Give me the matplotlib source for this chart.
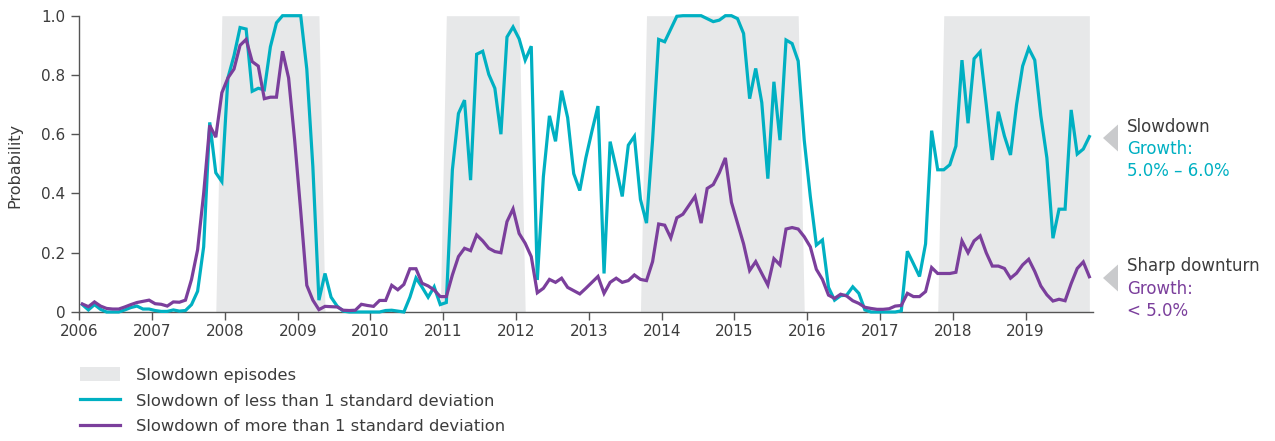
import numpy as np
import pandas as pd
import matplotlib
matplotlib.use("Agg")
import matplotlib.pyplot as plt
from matplotlib.patches import Patch, Polygon
from matplotlib.lines import Line2D

plt.rcParams['font.family'] = ['DejaVu Sans']

# monthly probabilities, Jan 2006 - Nov 2019
mild = [0.025, 0.007, 0.025, 0.009, 0.0, 0.0, 0.0, 0.007, 0.015, 0.02,
        0.01, 0.01, 0.005, 0.002, 0.002, 0.007, 0.003, 0.005, 0.025, 0.07,
        0.22, 0.64, 0.47, 0.44, 0.79, 0.865, 0.96, 0.955, 0.745, 0.755,
        0.75, 0.895, 0.976, 1.0, 1.0, 1.0, 1.0, 0.82, 0.49, 0.04,
        0.13, 0.05, 0.02, 0.003, 0.0, 0.0, 0.0, 0.0, 0.0, 0.0,
        0.005, 0.006, 0.003, 0.0, 0.05, 0.115, 0.084, 0.05, 0.085, 0.025,
        0.032, 0.48, 0.67, 0.715, 0.445, 0.87, 0.88, 0.802, 0.755, 0.6,
        0.928, 0.962, 0.922, 0.85, 0.897, 0.108, 0.457, 0.662, 0.576, 0.747,
        0.656, 0.467, 0.41, 0.52, 0.61, 0.695, 0.13, 0.575, 0.485, 0.39,
        0.563, 0.593, 0.38, 0.3, 0.58, 0.92, 0.912, 0.955, 0.998, 1.0,
        1.0, 1.0, 1.0, 0.99, 0.98, 0.985, 1.0, 1.0, 0.99, 0.94,
        0.72, 0.822, 0.707, 0.45, 0.777, 0.58, 0.918, 0.906, 0.847, 0.58,
        0.39, 0.226, 0.243, 0.083, 0.04, 0.055, 0.057, 0.085, 0.063, 0.007,
        0.0, 0.0, 0.0, 0.0, 0.0, 0.004, 0.205, 0.163, 0.12, 0.23,
        0.612, 0.48, 0.48, 0.497, 0.56, 0.85, 0.637, 0.855, 0.878, 0.7,
        0.513, 0.676, 0.594, 0.53, 0.7, 0.83, 0.89, 0.85, 0.662, 0.52,
        0.249, 0.347, 0.347, 0.682, 0.533, 0.55, 0.592]

sharp = [0.027, 0.018, 0.034, 0.02, 0.012, 0.01, 0.01, 0.017, 0.025, 0.032,
         0.036, 0.04, 0.028, 0.026, 0.02, 0.034, 0.033, 0.04, 0.11, 0.21,
         0.4, 0.63, 0.59, 0.74, 0.79, 0.82, 0.9, 0.92, 0.845, 0.83,
         0.72, 0.725, 0.725, 0.88, 0.79, 0.58, 0.34, 0.09, 0.04, 0.008,
         0.019, 0.018, 0.017, 0.006, 0.005, 0.006, 0.026, 0.022, 0.019, 0.039,
         0.039, 0.09, 0.075, 0.093, 0.146, 0.146, 0.097, 0.088, 0.074, 0.052,
         0.052, 0.125, 0.187, 0.215, 0.207, 0.26, 0.24, 0.215, 0.204, 0.2,
         0.305, 0.348, 0.265, 0.232, 0.187, 0.065, 0.08, 0.11, 0.1, 0.114,
         0.083, 0.072, 0.061, 0.08, 0.1, 0.12, 0.063, 0.1, 0.114, 0.1,
         0.106, 0.125, 0.11, 0.106, 0.17, 0.297, 0.293, 0.25, 0.318, 0.33,
         0.36, 0.39, 0.3, 0.417, 0.43, 0.47, 0.52, 0.37, 0.3, 0.23,
         0.14, 0.17, 0.13, 0.091, 0.18, 0.159, 0.28, 0.285, 0.28, 0.254,
         0.22, 0.144, 0.11, 0.057, 0.046, 0.06, 0.054, 0.038, 0.029, 0.016,
         0.012, 0.009, 0.009, 0.011, 0.02, 0.022, 0.063, 0.052, 0.052, 0.069,
         0.15, 0.13, 0.13, 0.13, 0.134, 0.24, 0.2, 0.24, 0.257, 0.2,
         0.155, 0.155, 0.147, 0.114, 0.131, 0.159, 0.178, 0.137, 0.088, 0.058,
         0.037, 0.043, 0.038, 0.096, 0.147, 0.169, 0.119]

# slowdown episodes (first month, last month)
episodes = [("2007-12", "2009-04"), ("2011-01", "2012-01"),
            ("2013-10", "2015-11"), ("2017-11", "2019-11")]

years = list(range(2006, 2020))
yticks = [0, 0.2, 0.4, 0.6, 0.8, 1.0]
ytick_labels = ["0", "0.2", "0.4", "0.6", "0.8", "1.0"]

TEAL = "#00b0c2"
PURPLE = "#7b3f9c"
SHADE = "#e7e8e9"
TXT = "#3c3c3c"

months = pd.date_range("2006-01-01", periods=len(mild), freq="MS")
x = months.year + (months.month - 0.5) / 12.0
flag = np.zeros(len(months))
for a, b in episodes:
    flag[(months >= pd.Timestamp(a)) & (months <= pd.Timestamp(b))] = 1.0

W, H = 1275, 441
fig = plt.figure(figsize=(W / 100, H / 100), dpi=100)
ax = fig.add_axes([79.3 / W, 1 - 312 / H, (1093 - 79.3) / W, (312 - 15.7) / H])

ax.fill_between(x, 0, flag, color=SHADE, lw=0, zorder=1)
ax.plot(x, mild, color=TEAL, lw=2.3, zorder=3, clip_on=False, solid_joinstyle="miter")
ax.plot(x, sharp, color=PURPLE, lw=2.3, zorder=4, clip_on=False, solid_joinstyle="miter")

ax.set_xlim(2006, 2019.925)
ax.set_ylim(0, 1.0)
ax.set_xticks(years)
ax.set_xticklabels([str(y) for y in years])
ax.set_yticks(yticks)
ax.set_yticklabels(ytick_labels)
for s in ["top", "right"]:
    ax.spines[s].set_visible(False)
for s in ["left", "bottom"]:
    ax.spines[s].set_color("#555555")
    ax.spines[s].set_linewidth(1.0)
ax.tick_params(axis="both", colors="#555555", labelcolor=TXT, labelsize=11,
               length=6, width=1.0)
ax.tick_params(axis="x", pad=3)
ax.tick_params(axis="y", pad=4)

fig.text(15 / W, 1 - 165 / H, "Probability", rotation=90, ha="center",
         va="center", fontsize=11.5, color=TXT)

# right-hand notes
def px(xp, yp):
    return xp / W, 1 - yp / H

for tip_y in (138, 278):
    tri = Polygon([px(1103, tip_y), px(1118, tip_y - 13.5), px(1118, tip_y + 13.5)],
                  closed=True, transform=fig.transFigure, color="#c9cacc", lw=0)
    fig.patches.append(tri)

notes = [(127, "Slowdown", TXT), (149, "Growth:", TEAL), (171, "5.0% \u2013 6.0%", TEAL),
         (266, "Sharp downturn", TXT), (289, "Growth:", PURPLE), (311, "< 5.0%", PURPLE)]
for yp, s, c in notes:
    fig.text(*px(1127, yp), s, ha="left", va="center", fontsize=12, color=c)

handles = [Patch(facecolor=SHADE, edgecolor="none"),
           Line2D([0], [0], color=TEAL, lw=2.3),
           Line2D([0], [0], color=PURPLE, lw=2.3)]
labels = ["Slowdown episodes", "Slowdown of less than 1 standard deviation",
          "Slowdown of more than 1 standard deviation"]
leg = fig.legend(handles, labels, loc="upper left", bbox_to_anchor=px(80, 367),
                 frameon=False, fontsize=11.8, handlelength=2.45, handleheight=0.95,
                 handletextpad=0.95, labelspacing=0.62, borderpad=0, borderaxespad=0)
for t in leg.get_texts():
    t.set_color(TXT)

fig.savefig("out.png", dpi=100)
